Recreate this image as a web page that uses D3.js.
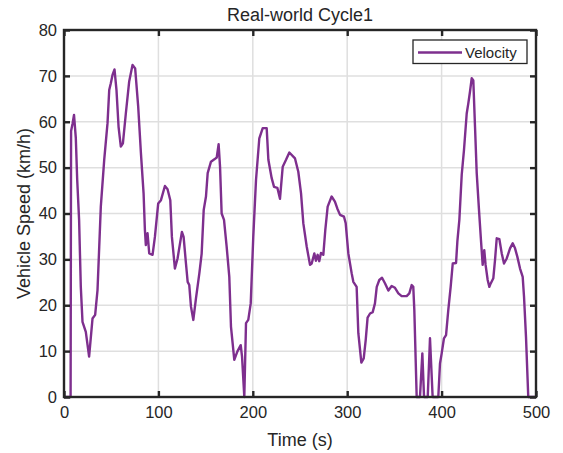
<!DOCTYPE html>
<html>
<head>
<meta charset="utf-8">
<script src="https://cdn.jsdelivr.net/npm/d3@7/dist/d3.min.js"></script>
<style>
  body { margin: 0; background: #fff; }
  text { font-family: "Liberation Sans", Arial, sans-serif; fill: #262626; }
</style>
</head>
<body>
<script>
// time (s) and speed (km/h)
var timeValues = [0, 7, 7.5, 9, 10.6, 12.5, 14, 16, 17.8, 19.6, 23.1, 26.6, 30.2, 33, 35.5, 39, 42.6, 46.1, 47.9, 49.6,
    51.4, 53.5, 55.6, 57.8, 60.2, 62.4, 65.5, 69, 72.6, 75.4, 78.6, 81.5, 84.3, 85.7, 86.7, 88.5, 90.3, 93.8, 96.3, 99.8,
    102.7, 106.9, 109.7, 112.6, 114.3, 117.5, 120.3, 124.9, 126.7, 129.2, 131, 132.7, 134.5, 137, 139.8, 143.4, 145.8, 148, 150.4, 152.2,
    155.7, 159.3, 161.8, 163.8, 165.3, 167, 169.5, 172.3, 175.1, 176.9, 180.4, 183.6, 187.2, 188.6, 191, 192.8, 195.2, 197.8, 200.5, 203.4,
    206.9, 210.5, 214.7, 216.5, 220, 222.5, 226, 228.8, 231.7, 235.2, 238.7, 244.7, 248.2, 251.1, 253.5, 257.1, 260.6, 262.4, 265.2, 266.9,
    268.7, 270.4, 272.2, 274.7, 276.8, 279.3, 283.5, 287, 289.5, 292.4, 296.6, 298.4, 301.2, 304.7, 306.5, 310, 311.8, 315, 317.5, 319.6,
    321.6, 324.2, 327, 329.4, 331.3, 334, 336.9, 340, 343.6, 347.1, 350.6, 354.2, 357.7, 363, 365.8, 368.3, 370, 371.1, 373.6, 377.1,
    379.6, 381.4, 385.3, 387.7, 390.5, 396.5, 398.3, 400.1, 402.5, 404.7, 407.1, 409.6, 411.8, 415.3, 416.7, 418.8, 421.3, 423.7, 426.6, 428.3,
    430.1, 431.9, 433.6, 435.4, 437.2, 439.6, 441.7, 443.5, 445.2, 446.6, 448.8, 450.6, 451.9, 454.8, 456.6, 458.4, 461.2, 463.7, 466.1, 469,
    472.5, 475.3, 477.8, 480.2, 483.1, 485.9, 487.3, 489.4, 491.8, 500];
var speedValues = [0, 0, 58, 59.5, 61.5, 56.5, 47.3, 38.6, 24, 16.4, 14.2, 8.8, 17.1, 17.9, 23.3, 41.5, 51.7, 59.7, 66.9, 68.4,
    70.2, 71.4, 66.9, 58.9, 54.6, 55.3, 61.8, 68.7, 72.4, 71.6, 63.3, 53.1, 44.4, 36.4, 33.1, 35.7, 31.3, 31, 34.9, 42.2,
    42.9, 46, 45.3, 42.9, 34.9, 28, 30.2, 36, 34.9, 29.1, 25.1, 24.4, 19.7, 16.8, 21.5, 27, 31.2, 40.8, 43.7, 48.8,
    51.3, 51.8, 52.2, 55.1, 50.2, 40, 38.6, 32.8, 26.2, 15.3, 8.1, 9.9, 11.3, 8.8, 0, 16.1, 16.8, 20.4, 34.9, 47.3,
    56.4, 58.6, 58.6, 51.7, 47.7, 45.8, 45.6, 43.2, 50.2, 51.7, 53.3, 52, 49.1, 44.4, 37.9, 32.8, 28.8, 29.1, 31.3, 29.7,
    31, 29.6, 31.4, 31, 36.4, 41.5, 43.7, 42.6, 41.1, 39.7, 39.3, 37.9, 31.3, 27, 25.1, 24, 13.9, 7.5, 8.4, 12.4,
    17.3, 18.2, 18.5, 20.4, 24, 25.5, 26, 24.8, 23.2, 24.2, 23.8, 22.6, 22, 22, 22.6, 24.4, 24, 19, 0, 0,
    9.5, 0, 0, 12.8, 0, 0, 7.3, 9.5, 12.8, 13.5, 19, 24, 29.1, 29.2, 33.9, 38.6, 48.4, 53.8, 61.8, 64,
    66.6, 69.5, 69, 58.9, 48.8, 40.8, 34.2, 28.8, 32, 28.8, 25.5, 24, 24.7, 25.9, 29.9, 34.6, 34.4, 31.3, 29.1, 30.2,
    32.4, 33.5, 32.4, 30.6, 28, 26.2, 21.9, 13.1, 0, 0];
var xTicks = [0, 100, 200, 300, 400, 500];
var yTicks = [0, 10, 20, 30, 40, 50, 60, 70, 80];

var width = 563, height = 453;
var plotLeft = 64, plotRight = 536, plotTop = 30, plotBottom = 397;

var svg = d3.select("body").append("svg")
    .attr("width", width)
    .attr("height", height);

var x = d3.scaleLinear().domain([0, 500]).range([plotLeft, plotRight]);
var y = d3.scaleLinear().domain([0, 80]).range([plotBottom, plotTop]);

// grid
var grid = svg.append("g").attr("class", "grid");
grid.selectAll("line.gx")
    .data(xTicks.slice(1, -1))
    .enter()
    .append("line")
    .attr("class", "gx")
    .attr("x1", function(d) { return x(d); })
    .attr("x2", function(d) { return x(d); })
    .attr("y1", plotTop)
    .attr("y2", plotBottom)
    .attr("stroke", "#dfdfdf")
    .attr("stroke-width", 1.5);
grid.selectAll("line.gy")
    .data(yTicks.slice(1, -1))
    .enter()
    .append("line")
    .attr("class", "gy")
    .attr("x1", plotLeft)
    .attr("x2", plotRight)
    .attr("y1", function(d) { return y(d); })
    .attr("y2", function(d) { return y(d); })
    .attr("stroke", "#dfdfdf")
    .attr("stroke-width", 1.5);

// speed trace
var line = d3.line()
    .x(function(d, i) { return x(timeValues[i]); })
    .y(function(d) { return y(d); });

svg.append("path")
    .datum(speedValues)
    .attr("d", line)
    .attr("fill", "none")
    .attr("stroke", "#7E2F8E")
    .attr("stroke-width", 2.4)
    .attr("stroke-linejoin", "round");

// axes, ticks inward
function styleAxis(g) {
    g.select(".domain").remove();
    g.selectAll(".tick line").attr("stroke", "#262626").attr("stroke-width", 2.4);
    g.selectAll(".tick text")
        .attr("fill", "#262626")
        .style("font-family", '"Liberation Sans", Arial, sans-serif')
        .style("font-size", "16.5px");
}

svg.append("g")
    .attr("transform", "translate(0," + plotBottom + ")")
    .call(d3.axisBottom(x).tickValues(xTicks).tickSizeInner(-6).tickSizeOuter(0).tickPadding(9))
    .call(styleAxis);
svg.append("g")
    .attr("transform", "translate(0," + plotTop + ")")
    .call(d3.axisTop(x).tickValues(xTicks).tickSizeInner(-6).tickSizeOuter(0).tickFormat(""))
    .call(styleAxis);
svg.append("g")
    .attr("transform", "translate(" + plotLeft + ",0)")
    .call(d3.axisLeft(y).tickValues(yTicks).tickSizeInner(-6).tickSizeOuter(0).tickPadding(7))
    .call(styleAxis);
svg.append("g")
    .attr("transform", "translate(" + plotRight + ",0)")
    .call(d3.axisRight(y).tickValues(yTicks).tickSizeInner(-6).tickSizeOuter(0).tickFormat(""))
    .call(styleAxis);

svg.append("rect")
    .attr("x", plotLeft)
    .attr("y", plotTop)
    .attr("width", plotRight - plotLeft)
    .attr("height", plotBottom - plotTop)
    .attr("fill", "none")
    .attr("stroke", "#262626")
    .attr("stroke-width", 2.4);

// labels
svg.append("text")
    .attr("x", (plotLeft + plotRight) / 2)
    .attr("y", 20.5)
    .attr("text-anchor", "middle")
    .style("font-size", "18px")
    .text("Real-world Cycle1");

svg.append("text")
    .attr("x", (plotLeft + plotRight) / 2)
    .attr("y", 446)
    .attr("text-anchor", "middle")
    .style("font-size", "18px")
    .text("Time (s)");

svg.append("text")
    .attr("transform", "translate(30," + (plotTop + plotBottom) / 2 + ") rotate(-90)")
    .attr("text-anchor", "middle")
    .style("font-size", "18px")
    .text("Vehicle Speed (km/h)");

// legend
var legend = svg.append("g").attr("class", "legend");
legend.append("rect")
    .attr("x", 413)
    .attr("y", 40)
    .attr("width", 114)
    .attr("height", 23.5)
    .attr("fill", "#fff")
    .attr("stroke", "#262626")
    .attr("stroke-width", 1.3);
legend.append("line")
    .attr("x1", 418)
    .attr("x2", 462)
    .attr("y1", 52.5)
    .attr("y2", 52.5)
    .attr("stroke", "#7E2F8E")
    .attr("stroke-width", 2.4);
legend.append("text")
    .attr("x", 465)
    .attr("y", 57.5)
    .style("font-size", "15px")
    .text("Velocity");
</script>
</body>
</html>
